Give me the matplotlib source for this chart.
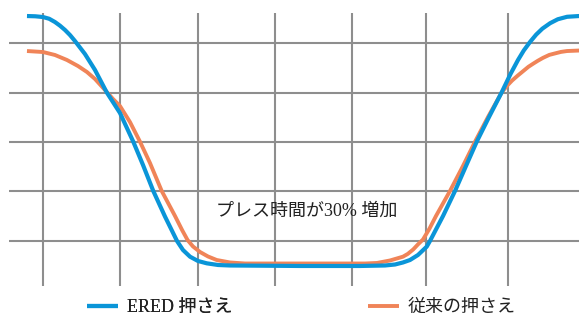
import matplotlib.pyplot as plt

# press stroke: time (grid units) vs ram position (grid units)
ered_t = [-0.207, -0.10, 0.0, 0.08, 0.155, 0.22, 0.285, 0.35, 0.414, 0.543,
          0.673, 0.824, 0.996, 1.168, 1.294, 1.427, 1.578, 1.734, 1.811, 1.902,
          2.005, 2.118, 2.264, 2.419, 3.325, 4.101, 4.424, 4.554, 4.657, 4.748,
          4.851, 4.964, 5.006, 5.175, 5.330, 5.472, 5.611, 5.770, 5.934, 6.05,
          6.145, 6.22, 6.30, 6.38, 6.46, 6.56, 6.66, 6.78, 6.934, 7.05]
ered_pos = [4.545, 4.540, 4.525, 4.490, 4.424, 4.350, 4.263, 4.160, 4.040, 3.778,
            3.455, 3.004, 2.586, 2.006, 1.535, 1.010, 0.495, 0.0, -0.182, -0.317,
            -0.404, -0.451, -0.485, -0.495, -0.505, -0.505, -0.495, -0.475, -0.434, -0.384,
            -0.283, -0.115, 0.0, 0.505, 1.010, 1.515, 2.006, 2.505, 3.004, 3.380,
            3.657, 3.850, 4.020, 4.170, 4.290, 4.400, 4.480, 4.530, 4.545, 4.545]

conv_t = [-0.207, 0.0, 0.155, 0.310, 0.453, 0.569, 0.673, 0.802, 0.906, 0.996,
          1.125, 1.255, 1.384, 1.536, 1.708, 1.80, 1.87, 1.94, 2.031, 2.135,
          2.247, 2.419, 2.613, 3.325, 4.166, 4.321, 4.489, 4.657, 4.72, 4.79,
          4.85, 4.916, 5.0, 5.084, 5.265, 5.433, 5.589, 5.757, 5.934, 6.0,
          6.067, 6.14, 6.21, 6.28, 6.339, 6.40, 6.468, 6.55, 6.624, 6.70,
          6.779, 6.934, 7.05]
conv_pos = [3.838, 3.818, 3.758, 3.657, 3.535, 3.414, 3.273, 3.051, 2.869, 2.727,
            2.404, 2.006, 1.576, 1.010, 0.505, 0.220, 0.020, -0.110, -0.222, -0.313,
            -0.384, -0.434, -0.455, -0.455, -0.455, -0.444, -0.394, -0.317, -0.260, -0.170,
            -0.070, 0.030, 0.250, 0.505, 1.010, 1.515, 2.006, 2.505, 3.000, 3.130,
            3.240, 3.340, 3.430, 3.520, 3.580, 3.640, 3.700, 3.760, 3.790, 3.820,
            3.838, 3.848, 3.848]

grid_x = [0, 1, 2, 3, 4, 4.96, 6.01]
grid_y = [0, 1, 2, 3, 4]

labels = ['ERED 押さえ', '従来の押さえ']
note = 'プレス時間が30% 増加'

blue = '#0a95d8'
orange = '#f08458'
fonts = ['Liberation Serif', 'Noto Sans CJK JP']

fig = plt.figure(figsize=(5.79, 3.18), dpi=100)
ax = fig.add_axes([0, 0, 1, 1])
ax.set_xlim(-0.556, 6.934)
ax.set_ylim(-1.556, 4.869)
ax.axis('off')

ax.vlines(grid_x, -0.909, 4.606, color='#8e8e8e', lw=1.5, zorder=1)
ax.hlines(grid_y, -0.44, 7.2, color='#8e8e8e', lw=1.5, zorder=1)

l2, = ax.plot(conv_t, conv_pos, color=orange, lw=2.8, zorder=2,
              solid_capstyle='butt', solid_joinstyle='round')
l1, = ax.plot(ered_t, ered_pos, color=blue, lw=3.0, zorder=3,
              solid_capstyle='butt', solid_joinstyle='round')

ax.text(3.415, 0.606, note, ha='center', va='center', fontsize=13,
        family=fonts, color='#222222', zorder=4)

leg1 = fig.legend([l1], [labels[0]], loc='center left', bbox_to_anchor=(0.150, 0.033),
                  frameon=False, borderpad=0, borderaxespad=0, handlelength=1.7,
                  handletextpad=0.5, prop={'family': fonts, 'size': 13})
leg2 = fig.legend([l2], [labels[1]], loc='center left', bbox_to_anchor=(0.636, 0.033),
                  frameon=False, borderpad=0, borderaxespad=0, handlelength=1.7,
                  handletextpad=0.5, prop={'family': fonts, 'size': 13})
for leg in (leg1, leg2):
    for t in leg.get_texts():
        t.set_color('#222222')
fig.add_artist(leg1)

fig.savefig('out.png', dpi=100)
